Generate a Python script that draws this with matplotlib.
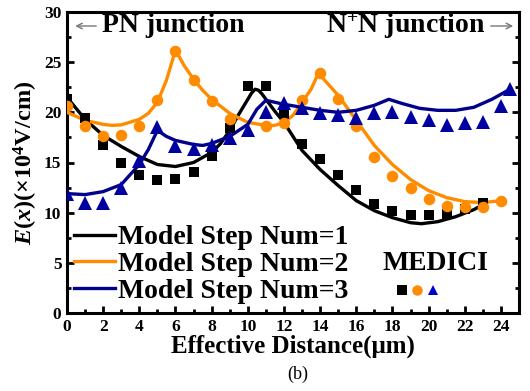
import numpy as np
import matplotlib
matplotlib.use("Agg")
import matplotlib.pyplot as plt

plt.rcParams['font.family'] = ['Liberation Serif', 'DejaVu Serif']
plt.rcParams['font.weight'] = 'bold'
plt.rcParams['mathtext.fontset'] = 'custom'
plt.rcParams['mathtext.rm'] = 'Liberation Serif:bold'
plt.rcParams['mathtext.it'] = 'Liberation Serif:italic:bold'
plt.rcParams['mathtext.bf'] = 'Liberation Serif:bold'

# ---- data ----
# MEDICI simulation points
x_med = [0, 1, 2, 3, 4, 5, 6, 7, 8, 9, 10, 11, 12, 13, 14, 15, 16, 17, 18, 19, 20, 21, 22, 23]
e_med1 = [21.3, 19.4, 16.7, 15.0, 13.8, 13.3, 13.4, 14.1, 15.6, 18.4, 22.6, 22.6, 19.8, 16.8,
          15.3, 13.8, 12.3, 10.9, 10.2, 9.8, 9.8, 9.9, 10.4, 11.0]

x_med2 = [0, 1, 2, 3, 4, 5, 6, 7, 8, 9, 11, 12, 13, 14, 15, 16, 17, 18, 19, 20, 21, 22, 23, 24]
e_med2 = [20.6, 18.6, 17.6, 17.7, 18.6, 21.2, 26.1, 23.2, 21.1, 19.3, 18.6, 18.9, 21.2, 23.9,
          21.3, 18.6, 15.5, 13.7, 12.5, 11.4, 10.7, 10.6, 10.6, 11.2]

x_med3 = [0, 1, 2, 3, 4, 5, 6, 7, 8, 9, 10, 11, 12, 13, 14, 15, 16, 17, 18, 19, 20, 21, 22, 23, 24, 24.5]
e_med3 = [11.9, 11.0, 11.0, 12.5, 15.1, 18.5, 16.6, 16.3, 16.7, 17.4, 18.2, 20.0, 20.9, 20.4,
          19.9, 19.7, 19.4, 19.9, 20.0, 19.5, 19.2, 18.7, 18.9, 19.0, 20.6, 22.3]

# Model curves
x_m1 = [0, 1, 2, 3, 4, 5, 6, 7, 8, 8.5, 9, 9.5, 10, 10.2, 10.4, 10.6, 10.8, 11, 11.5, 12, 12.5,
        13, 14, 15, 16, 17, 18, 19, 19.6, 20.5, 21.5, 22.5, 23]
e_m1 = [21.5, 19.3, 17.7, 16.6, 15.6, 14.8, 14.6, 15.0, 16.0, 16.9, 18.2, 19.8, 21.3, 21.9, 22.3,
        22.2, 21.8, 21.3, 20.1, 19.0, 17.6, 16.2, 14.3, 12.7, 11.2, 10.2, 9.5, 9.0, 8.9, 9.1, 9.6,
        10.3, 10.8]

x_m2 = [0, 1, 2, 2.5, 3, 4, 4.5, 5, 5.5, 6, 6.5, 7, 7.5, 8, 9, 10, 11, 11.5, 12, 12.5, 13, 13.5,
        13.9, 14.5, 15, 16, 17, 18, 19, 20, 21, 22, 23, 24]
e_m2 = [20.0, 19.2, 18.8, 18.7, 18.75, 19.3, 19.9, 21.0, 23.2, 26.2, 24.6, 23.3, 22.2, 21.3, 19.9,
        19.0, 18.7, 18.7, 19.0, 19.7, 21.0, 22.3, 23.9, 22.7, 21.7, 19.2, 16.7, 14.8, 13.3, 12.2,
        11.5, 11.1, 11.0, 11.2]

x_m3 = [0, 1, 2, 3, 4, 4.5, 5, 5.5, 6, 7, 7.5, 8, 9, 10, 10.5, 11, 11.5, 12, 13, 14, 15, 16, 17,
        17.8, 18.5, 19.5, 20.5, 21.5, 22.5, 23.5, 24.5]
e_m3 = [11.9, 11.8, 12.1, 12.8, 14.8, 16.3, 18.2, 17.6, 17.2, 16.8, 16.7, 16.9, 17.6, 18.8, 20.3,
        21.2, 21.0, 20.8, 20.5, 20.2, 20.0, 20.2, 20.7, 21.3, 20.9, 20.4, 20.2, 20.2, 20.5, 21.3,
        22.3]

labels = ['Model Step Num=1', 'Model Step Num=2', 'Model Step Num=3']

c_black = '#000000'
c_orange = '#FF8C00'
c_blue = '#00008B'
c_tri = '#0000A0'

fig = plt.figure(figsize=(5.30, 3.91), dpi=100)
ax = fig.add_axes([67 / 530, 1 - 313 / 391, (519 - 67) / 530, (313 - 12) / 391])

lw = 2.4
l1, = ax.plot(x_m1, e_m1, color=c_black, lw=lw, zorder=3)
l2, = ax.plot(x_m2, e_m2, color=c_orange, lw=lw, zorder=3)
l3, = ax.plot(x_m3, e_m3, color=c_blue, lw=lw, zorder=3)

ax.plot(x_med, e_med1, 's', color=c_black, ms=7.3, mew=0, zorder=4)
ax.plot(x_med2, e_med2, 'o', color=c_orange, ms=8.3, mew=0, zorder=4)
ax.plot(x_med3, e_med3, '^', color=c_tri, ms=9.5, mew=0, zorder=4)

ax.set_xlim(0, 25)
ax.set_ylim(0, 30)
ax.set_xticks(np.arange(0, 25, 2))
ax.set_xticks(np.arange(1, 25, 2), minor=True)
ax.set_yticks(np.arange(0, 31, 5))
ax.set_yticks(np.arange(2.5, 30, 5), minor=True)
ax.tick_params(which='both', direction='in', right=True, top=False, width=2)
ax.tick_params(which='major', length=5, labelsize=12.5, pad=4)
ax.tick_params(which='minor', length=3)
for lab in ax.get_xticklabels() + ax.get_yticklabels():
    lab.set_fontweight('bold')
for s in ax.spines.values():
    s.set_linewidth(2.2)

ax.set_xlabel('Effective Distance(μm)', fontsize=18, fontweight='bold', labelpad=0)
ax.set_ylabel(r'$E$($x$)(×10$^4$V/cm)', fontsize=17.5, fontweight='bold', labelpad=3)

leg = ax.legend([l1, l2, l3], labels, loc='lower left', bbox_to_anchor=(0.015, 0.03),
                frameon=False, fontsize=20, handlelength=1.5, handletextpad=0.1,
                labelspacing=0.05, borderpad=0, borderaxespad=0)

# annotations
yt = (313 - 26) / 301
ax.text((102 - 67) / 452, yt, 'PN junction', transform=ax.transAxes,
        fontsize=20, fontweight='bold', va='center', ha='left')
ax.annotate('', xy=(0.012, yt), xytext=((99 - 67) / 452, yt),
            xycoords='axes fraction',
            arrowprops=dict(arrowstyle='->', color='#777777', lw=1))
ax.text((485 - 67) / 452, yt, r'N$^{+}$N junction', transform=ax.transAxes,
        fontsize=20, fontweight='bold', va='center', ha='right')
ax.annotate('', xy=((516 - 67) / 452, yt), xytext=((488 - 67) / 452, yt),
            xycoords='axes fraction',
            arrowprops=dict(arrowstyle='->', color='#777777', lw=1))

ax.text((435 - 67) / 452, (313 - 264) / 301, 'MEDICI', transform=ax.transAxes,
        fontsize=20, fontweight='bold', va='center', ha='center')
yk = (313 - 290) / 301
ax.plot([(402 - 67) / 452], [yk], 's', color=c_black, ms=6.5, mew=0, transform=ax.transAxes, clip_on=False)
ax.plot([(417 - 67) / 452], [yk], 'o', color=c_orange, ms=7.5, mew=0, transform=ax.transAxes, clip_on=False)
ax.plot([(433 - 67) / 452], [yk], '^', color='#0000CD', ms=7.5, mew=0, transform=ax.transAxes, clip_on=False)

fig.text(298 / 530, 1 - 374 / 391, '(b)', fontsize=13, fontweight='normal', ha='center', va='center')

fig.savefig('out.png', dpi=100)
